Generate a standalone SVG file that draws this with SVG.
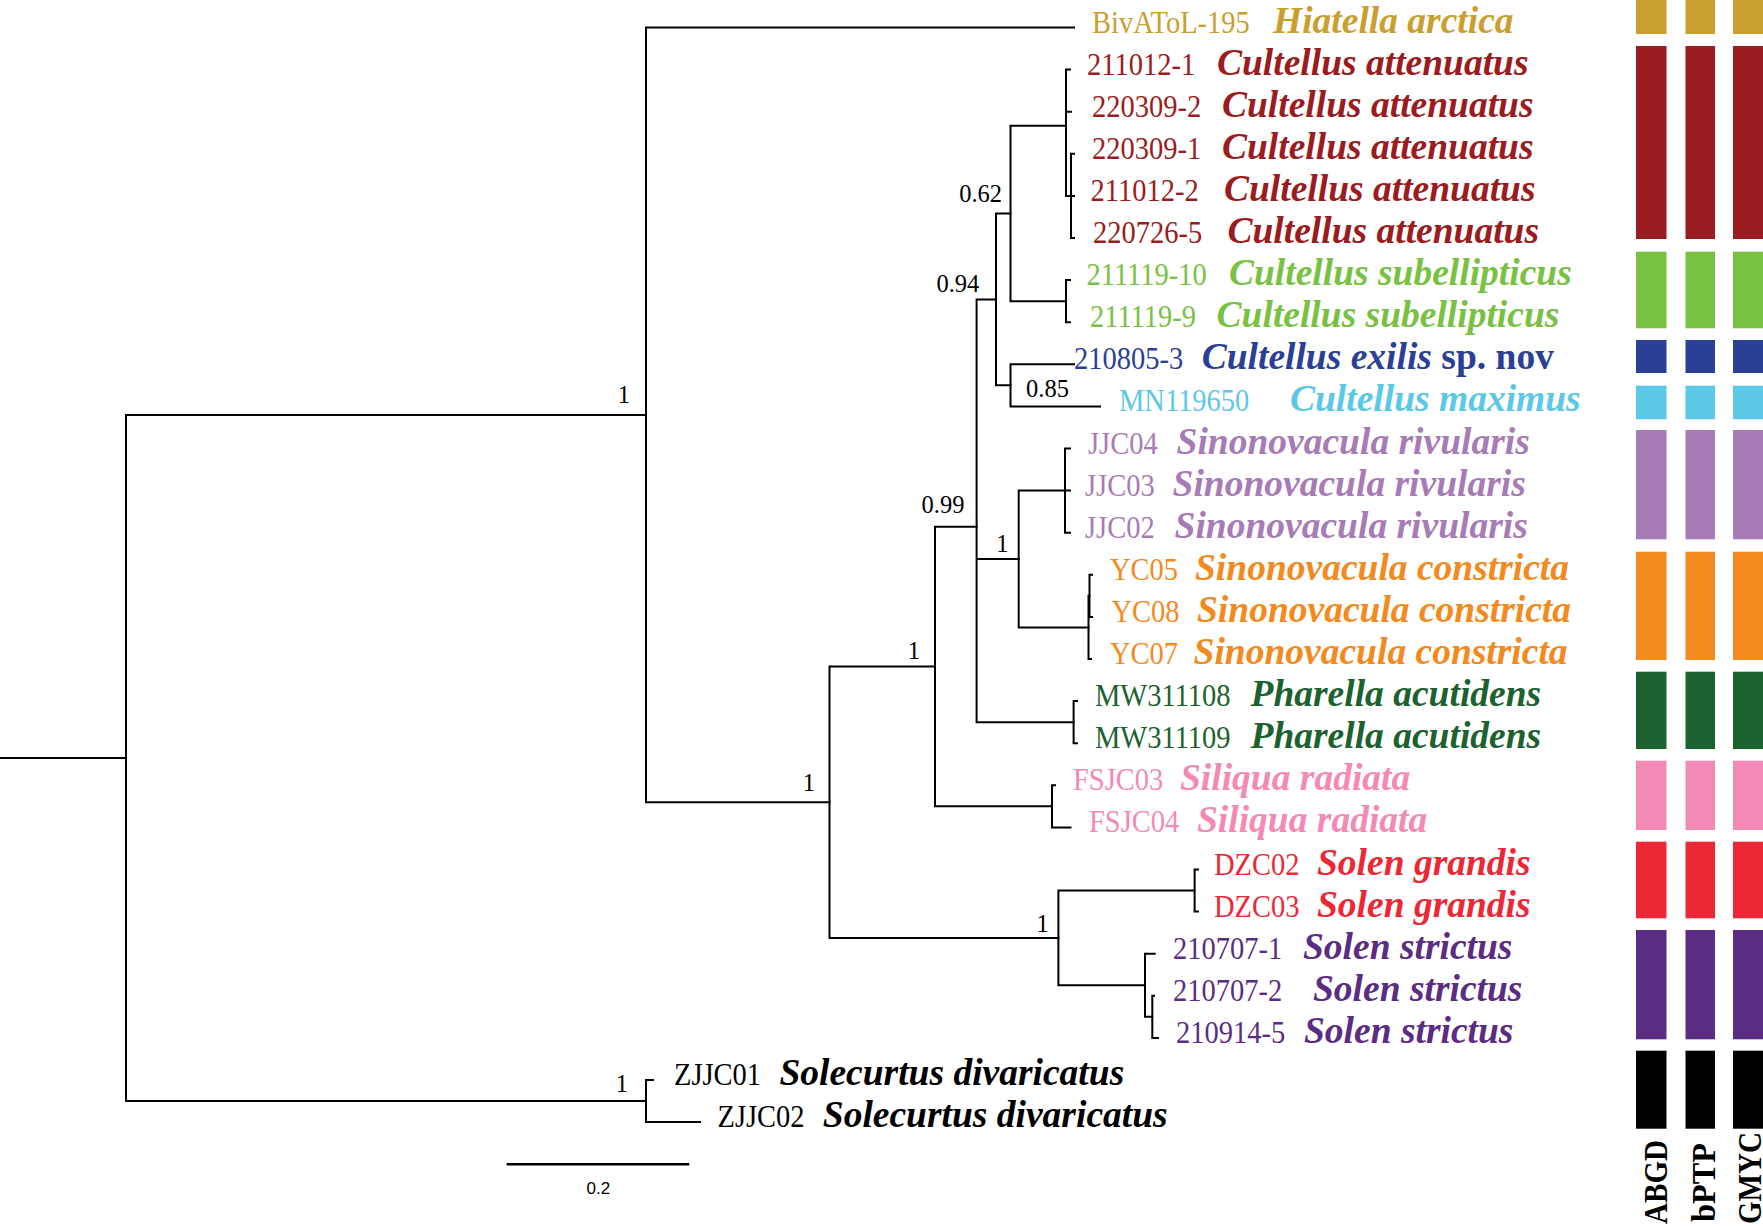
<svg xmlns="http://www.w3.org/2000/svg" width="1763" height="1226" viewBox="0 0 1763 1226">
<style>
.br{stroke:#000;stroke-width:2;fill:none;stroke-linecap:square}
.id{font-family:"Liberation Serif","Times New Roman",serif;font-size:28.5px}
.sp{font-family:"Liberation Serif","Times New Roman",serif;font-size:37.5px;font-weight:bold;font-style:italic}
.sup{font-family:"Liberation Serif","Times New Roman",serif;font-size:24.5px;fill:#000}
.ml{font-family:"Liberation Serif","Times New Roman",serif;font-size:30px;font-weight:bold;fill:#000}
.sc{font-family:"Liberation Sans",Arial,sans-serif;font-size:17px;fill:#000}
.c0{fill:#C9A02F}.c1{fill:#9B1C20}.c2{fill:#79C142}.c3{fill:#2B3F97}.c4{fill:#5BC8E6}.c5{fill:#A77BB5}
.c6{fill:#F28A20}.c7{fill:#1C6130}.c8{fill:#F28AB5}.c9{fill:#EC2836}.c10{fill:#5A2D82}.c11{fill:#000}
</style>
<rect width="1763" height="1226" fill="#fff"/>
<g id="connectors" class="br">
<path d="M0 758H126M126 414.9V1101.05M126 414.9H646M126 1101.05H646"/>
<path d="M646 27.5V802.25M646 27.5H1074M646 802.25H829.5"/>
<path d="M829.5 666.6V937.9M829.5 666.6H935M829.5 937.9H1058.4"/>
<path d="M935 526.85V806.35M935 526.85H976.6M935 806.35H1052"/>
<path d="M976.6 299.4V722.15M976.6 299.4H996M976.6 559H1018.7M976.6 722.15H1073.6"/>
<path d="M996 213.4V385.35M996 213.4H1010.5M996 385.35H1010.5"/>
<path d="M1010.5 125.7V301.15M1010.5 125.7H1066M1010.5 301.15H1066"/>
<path d="M1066 69.6V195.9M1066 69.6H1070M1066 111.7H1071M1066 195.9H1071"/>
<path d="M1071 153.8V238M1071 153.8H1074M1071 195.9H1074M1071 238H1074"/>
<path d="M1066 280.1V322.2M1066 280.1H1070M1066 322.2H1070"/>
<path d="M1010.5 364.3V406.4M1010.5 364.3H1074M1010.5 406.4H1100"/>
<path d="M1018.7 490.6V627.4M1018.7 490.6H1065M1018.7 627.4H1088.5"/>
<path d="M1065 448.5V532.7M1065 448.5H1070M1065 490.6H1070M1065 532.7H1070"/>
<path d="M1088.5 595.85V659M1088.5 595.85H1089.5M1088.5 659H1091"/>
<path d="M1089.5 574.8V616.9M1089.5 574.8H1092M1089.5 616.9H1092"/>
<path d="M1073.6 701.1V743.2M1073.6 701.1H1077M1073.6 743.2H1077"/>
<path d="M1052 785.3V827.4M1052 785.3H1055M1052 827.4H1070.5"/>
<path d="M1058.4 890.55V985.3M1058.4 890.55H1194.6M1058.4 985.3H1145"/>
<path d="M1194.6 869.5V911.6M1194.6 869.5H1198M1194.6 911.6H1198"/>
<path d="M1145 953.7V1016.85M1145 953.7H1154.7M1145 1016.85H1152.3"/>
<path d="M1152.3 995.8V1037.9M1152.3 995.8H1154M1152.3 1037.9H1158"/>
<path d="M646 1080V1122.1M646 1080H653M646 1122.1H700"/>
</g>
<g id="support">
<text class="sup" x="630" y="402.7" text-anchor="end">1</text>
<text class="sup" x="815" y="790.7" text-anchor="end">1</text>
<text class="sup" x="920" y="659.3" text-anchor="end">1</text>
<text class="sup" x="964.4" y="512.7" text-anchor="end">0.99</text>
<text class="sup" x="1008.5" y="551.7" text-anchor="end">1</text>
<text class="sup" x="979.3" y="291.7" text-anchor="end">0.94</text>
<text class="sup" x="1002" y="201.7" text-anchor="end">0.62</text>
<text class="sup" x="1026" y="396.7">0.85</text>
<text class="sup" x="1048.7" y="931.7" text-anchor="end">1</text>
<text class="sup" x="628" y="1091.7" text-anchor="end">1</text>
</g>
<g id="tip-0" class="c0"><text class="id" transform="translate(1092,32.5) scale(1,1.13)">BivAToL-195</text><text class="sp" x="1273" y="32.5">Hiatella arctica</text></g>
<g id="tip-1" class="c1"><text class="id" transform="translate(1087,74.6) scale(1,1.13)">211012-1</text><text class="sp" x="1217" y="74.6">Cultellus attenuatus</text></g>
<g id="tip-2" class="c1"><text class="id" transform="translate(1092,116.7) scale(1,1.13)">220309-2</text><text class="sp" x="1222" y="116.7">Cultellus attenuatus</text></g>
<g id="tip-3" class="c1"><text class="id" transform="translate(1092,158.8) scale(1,1.13)">220309-1</text><text class="sp" x="1222" y="158.8">Cultellus attenuatus</text></g>
<g id="tip-4" class="c1"><text class="id" transform="translate(1090.5,200.9) scale(1,1.13)">211012-2</text><text class="sp" x="1224" y="200.9">Cultellus attenuatus</text></g>
<g id="tip-5" class="c1"><text class="id" transform="translate(1093,243) scale(1,1.13)">220726-5</text><text class="sp" x="1227.5" y="243">Cultellus attenuatus</text></g>
<g id="tip-6" class="c2"><text class="id" transform="translate(1086.5,285.1) scale(1,1.13)">211119-10</text><text class="sp" x="1229" y="285.1">Cultellus subellipticus</text></g>
<g id="tip-7" class="c2"><text class="id" transform="translate(1090,327.2) scale(1,1.13)">211119-9</text><text class="sp" x="1216.6" y="327.2">Cultellus subellipticus</text></g>
<g id="tip-8" class="c3"><text class="id" transform="translate(1074,369.3) scale(1,1.13)">210805-3</text><text class="sp" x="1201.7" y="369.3">Cultellus exilis<tspan font-style="normal"> sp. nov</tspan></text></g>
<g id="tip-9" class="c4"><text class="id" transform="translate(1119,411.4) scale(1,1.13)">MN119650</text><text class="sp" x="1290" y="411.4">Cultellus maximus</text></g>
<g id="tip-10" class="c5"><text class="id" transform="translate(1088,453.5) scale(1,1.13)">JJC04</text><text class="sp" x="1176.6" y="453.5">Sinonovacula rivularis</text></g>
<g id="tip-11" class="c5"><text class="id" transform="translate(1085,495.6) scale(1,1.13)">JJC03</text><text class="sp" x="1172.6" y="495.6">Sinonovacula rivularis</text></g>
<g id="tip-12" class="c5"><text class="id" transform="translate(1085,537.7) scale(1,1.13)">JJC02</text><text class="sp" x="1174.6" y="537.7">Sinonovacula rivularis</text></g>
<g id="tip-13" class="c6"><text class="id" transform="translate(1110,579.8) scale(1,1.13)">YC05</text><text class="sp" x="1195" y="579.8">Sinonovacula constricta</text></g>
<g id="tip-14" class="c6"><text class="id" transform="translate(1111.5,621.9) scale(1,1.13)">YC08</text><text class="sp" x="1197" y="621.9">Sinonovacula constricta</text></g>
<g id="tip-15" class="c6"><text class="id" transform="translate(1110,664) scale(1,1.13)">YC07</text><text class="sp" x="1193.6" y="664">Sinonovacula constricta</text></g>
<g id="tip-16" class="c7"><text class="id" transform="translate(1095,706.1) scale(1,1.13)">MW311108</text><text class="sp" x="1250.5" y="706.1">Pharella acutidens</text></g>
<g id="tip-17" class="c7"><text class="id" transform="translate(1095,748.2) scale(1,1.13)">MW311109</text><text class="sp" x="1250.5" y="748.2">Pharella acutidens</text></g>
<g id="tip-18" class="c8"><text class="id" transform="translate(1073,790.3) scale(1,1.13)">FSJC03</text><text class="sp" x="1180" y="790.3">Siliqua radiata</text></g>
<g id="tip-19" class="c8"><text class="id" transform="translate(1089,832.4) scale(1,1.13)">FSJC04</text><text class="sp" x="1197" y="832.4">Siliqua radiata</text></g>
<g id="tip-20" class="c9"><text class="id" transform="translate(1214,874.5) scale(1,1.13)">DZC02</text><text class="sp" x="1317" y="874.5">Solen grandis</text></g>
<g id="tip-21" class="c9"><text class="id" transform="translate(1214,916.6) scale(1,1.13)">DZC03</text><text class="sp" x="1317" y="916.6">Solen grandis</text></g>
<g id="tip-22" class="c10"><text class="id" transform="translate(1173,958.7) scale(1,1.13)">210707-1</text><text class="sp" x="1303" y="958.7">Solen strictus</text></g>
<g id="tip-23" class="c10"><text class="id" transform="translate(1173,1000.8) scale(1,1.13)">210707-2</text><text class="sp" x="1313" y="1000.8">Solen strictus</text></g>
<g id="tip-24" class="c10"><text class="id" transform="translate(1176,1042.9) scale(1,1.13)">210914-5</text><text class="sp" x="1304" y="1042.9">Solen strictus</text></g>
<g id="tip-25" class="c11"><text class="id" transform="translate(674,1085) scale(1,1.13)">ZJJC01</text><text class="sp" x="779.4" y="1085">Solecurtus divaricatus</text></g>
<g id="tip-26" class="c11"><text class="id" transform="translate(717.5,1127.1) scale(1,1.13)">ZJJC02</text><text class="sp" x="822.8" y="1127.1">Solecurtus divaricatus</text></g>
<g id="bars">
<g id="bar-hiatella" class="c0"><rect x="1636" y="0" width="30.5" height="34"/><rect x="1685.5" y="0" width="29.5" height="34"/><rect x="1733" y="0" width="30" height="34"/></g>
<g id="bar-attenuatus" class="c1"><rect x="1636" y="46" width="30.5" height="193"/><rect x="1685.5" y="46" width="29.5" height="193"/><rect x="1733" y="46" width="30" height="193"/></g>
<g id="bar-subellipticus" class="c2"><rect x="1636" y="251.7" width="30.5" height="76.6"/><rect x="1685.5" y="251.7" width="29.5" height="76.6"/><rect x="1733" y="251.7" width="30" height="76.6"/></g>
<g id="bar-exilis" class="c3"><rect x="1636" y="340" width="30.5" height="33"/><rect x="1685.5" y="340" width="29.5" height="33"/><rect x="1733" y="340" width="30" height="33"/></g>
<g id="bar-maximus" class="c4"><rect x="1636" y="385.7" width="30.5" height="33.6"/><rect x="1685.5" y="385.7" width="29.5" height="33.6"/><rect x="1733" y="385.7" width="30" height="33.6"/></g>
<g id="bar-rivularis" class="c5"><rect x="1636" y="430" width="30.5" height="109.3"/><rect x="1685.5" y="430" width="29.5" height="109.3"/><rect x="1733" y="430" width="30" height="109.3"/></g>
<g id="bar-constricta" class="c6"><rect x="1636" y="551.7" width="30.5" height="108.3"/><rect x="1685.5" y="551.7" width="29.5" height="108.3"/><rect x="1733" y="551.7" width="30" height="108.3"/></g>
<g id="bar-pharella" class="c7"><rect x="1636" y="671.7" width="30.5" height="77.3"/><rect x="1685.5" y="671.7" width="29.5" height="77.3"/><rect x="1733" y="671.7" width="30" height="77.3"/></g>
<g id="bar-siliqua" class="c8"><rect x="1636" y="760.7" width="30.5" height="69.3"/><rect x="1685.5" y="760.7" width="29.5" height="69.3"/><rect x="1733" y="760.7" width="30" height="69.3"/></g>
<g id="bar-grandis" class="c9"><rect x="1636" y="841.7" width="30.5" height="76.6"/><rect x="1685.5" y="841.7" width="29.5" height="76.6"/><rect x="1733" y="841.7" width="30" height="76.6"/></g>
<g id="bar-strictus" class="c10"><rect x="1636" y="930" width="30.5" height="109.3"/><rect x="1685.5" y="930" width="29.5" height="109.3"/><rect x="1733" y="930" width="30" height="109.3"/></g>
<g id="bar-solecurtus" class="c11"><rect x="1636" y="1050.7" width="30.5" height="78"/><rect x="1685.5" y="1050.7" width="29.5" height="78"/><rect x="1733" y="1050.7" width="30" height="78"/></g>
</g>
<g id="method-labels">
<text class="ml" transform="translate(1667,1140) rotate(-90) scale(1,1.1)" text-anchor="end" textLength="84" lengthAdjust="spacingAndGlyphs">ABGD</text>
<text class="ml" transform="translate(1715,1143) rotate(-90) scale(1,1.1)" text-anchor="end" textLength="79" lengthAdjust="spacingAndGlyphs">bPTP</text>
<text class="ml" transform="translate(1761,1132) rotate(-90) scale(1,1.1)" text-anchor="end" textLength="92" lengthAdjust="spacingAndGlyphs">GMYC</text>
</g>
<g id="scale-bar">
<path d="M506.7 1164.3H689.3" stroke="#000" stroke-width="2.5"/>
<text class="sc" x="598.3" y="1194" text-anchor="middle">0.2</text>
</g>
</svg>
